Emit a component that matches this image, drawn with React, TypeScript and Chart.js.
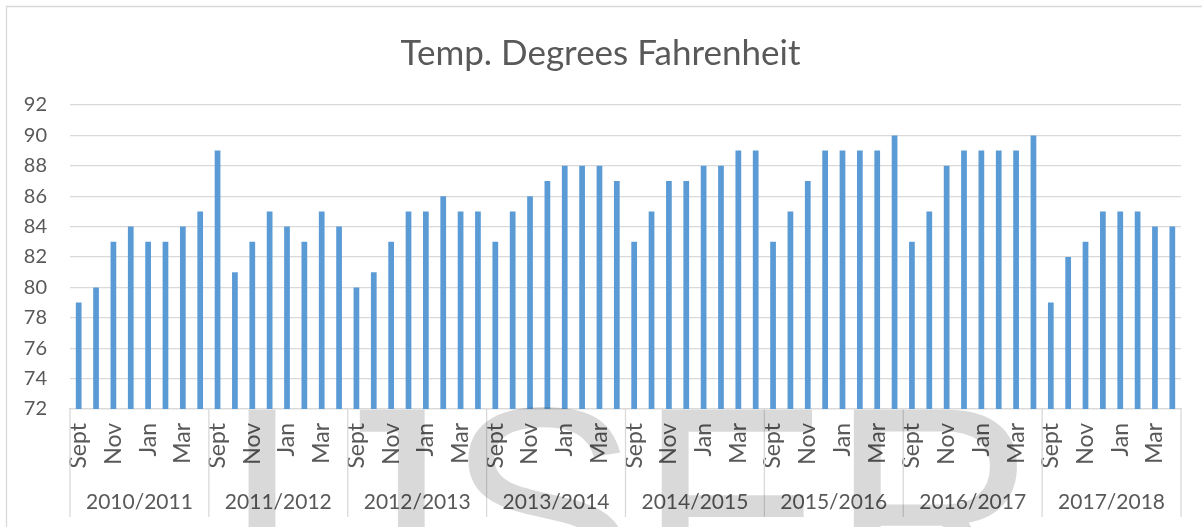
import React, { useEffect, useRef } from 'react';
import { Chart, registerables } from 'chart.js';

Chart.register(...registerables);

const seasonLabels = ['2010/2011', '2011/2012', '2012/2013', '2013/2014', '2014/2015', '2015/2016', '2016/2017', '2017/2018'];
const monthLabels = ['Sept', 'Oct', 'Nov', 'Dec', 'Jan', 'Feb', 'Mar', 'Apr'];

const temps2010_2011 = [79, 80, 83, 84, 83, 83, 84, 85];
const temps2011_2012 = [89, 81, 83, 85, 84, 83, 85, 84];
const temps2012_2013 = [80, 81, 83, 85, 85, 86, 85, 85];
const temps2013_2014 = [83, 85, 86, 87, 88, 88, 88, 87];
const temps2014_2015 = [83, 85, 87, 87, 88, 88, 89, 89];
const temps2015_2016 = [83, 85, 87, 89, 89, 89, 89, 90];
const temps2016_2017 = [83, 85, 88, 89, 89, 89, 89, 90];
const temps2017_2018 = [79, 82, 83, 85, 85, 85, 84, 84];

const yMin = 72;
const yMax = 92;
const yStep = 2;

const titleText = 'Temp. Degrees Fahrenheit';
const watermarkText = 'IJSER';

const FONT = 'Lato, "Open Sans", sans-serif';
const TEXT = '#595959';
const GRID = '#d9d9d9';
const BAR = '#5b9bd5';

const seasonTemps = [
  temps2010_2011, temps2011_2012, temps2012_2013, temps2013_2014,
  temps2014_2015, temps2015_2016, temps2016_2017, temps2017_2018,
];

const allLabels: string[] = [];
const allValues: number[] = [];
seasonTemps.forEach((arr) => {
  arr.forEach((v, i) => {
    allLabels.push(monthLabels[i]);
    allValues.push(v);
  });
});

const groupPlugin = {
  id: 'groupSeparators',
  afterDraw(chart: any) {
    const { ctx, chartArea } = chart;
    const xs = chart.scales.x;
    const x2 = chart.scales.x2;
    const per = monthLabels.length;
    ctx.save();
    ctx.strokeStyle = GRID;
    ctx.lineWidth = 1.3;
    for (let g = 0; g <= seasonLabels.length; g++) {
      let px: number;
      if (g === 0) px = chartArea.left;
      else if (g === seasonLabels.length) px = chartArea.right;
      else px = (xs.getPixelForValue(g * per - 1) + xs.getPixelForValue(g * per)) / 2;
      ctx.beginPath();
      ctx.moveTo(px, chartArea.bottom);
      ctx.lineTo(px, x2.bottom - 10);
      ctx.stroke();
    }
    // outer frame (left and top edges)
    ctx.beginPath();
    ctx.moveTo(6.5, chart.height);
    ctx.lineTo(6.5, 6.5);
    ctx.lineTo(chart.width, 6.5);
    ctx.stroke();

    // translucent watermark overlay
    ctx.fillStyle = 'rgba(0,0,0,0.15)';
    ctx.font = '288px "Liberation Sans", Arial, sans-serif';
    ctx.textBaseline = 'alphabetic';
    ctx.textAlign = 'left';
    ctx.fillText(watermarkText, 222, 608);
    ctx.restore();
  },
};

export default function App() {
  const ref = useRef<HTMLCanvasElement | null>(null);

  useEffect(() => {
    if (!ref.current) return;
    const chart = new Chart(ref.current, {
      type: 'bar',
      data: {
        labels: allLabels,
        datasets: [
          {
            label: titleText,
            data: allValues,
            backgroundColor: BAR,
            borderWidth: 0,
            categoryPercentage: 1,
            barPercentage: 0.33,
          },
        ],
      },
      options: {
        responsive: false,
        animation: false,
        devicePixelRatio: 1,
        layout: { padding: { left: 20, right: 21, top: 0, bottom: 0 } },
        plugins: {
          legend: { display: false },
          tooltip: { enabled: false },
          title: {
            display: true,
            text: titleText,
            color: TEXT,
            font: { family: FONT, size: 35, weight: 'normal' },
            padding: { top: 33, bottom: 30 },
          },
        },
        scales: {
          x: {
            type: 'category',
            position: 'bottom',
            weight: 0,
            grid: { display: false, drawTicks: false },
            border: { display: true, color: GRID, width: 1.3 },
            ticks: {
              autoSkip: false,
              minRotation: 90,
              maxRotation: 90,
              padding: 14,
              color: TEXT,
              font: { family: FONT, size: 23 },
              callback: (_v: any, i: number) => (i % 2 === 0 ? allLabels[i] : ''),
            },
            afterFit: (s: any) => {
              s.height = 75;
              s.paddingLeft = 0;
              s.paddingRight = 0;
            },
          },
          x2: {
            type: 'category',
            labels: seasonLabels,
            position: 'bottom',
            weight: 1,
            offset: true,
            grid: { display: false, drawTicks: false },
            border: { display: false },
            ticks: {
              autoSkip: false,
              maxRotation: 0,
              minRotation: 0,
              padding: 6,
              color: TEXT,
              font: { family: FONT, size: 21 },
            },
            afterFit: (s: any) => {
              s.height = 43;
              s.paddingLeft = 0;
              s.paddingRight = 0;
            },
          },
          y: {
            min: yMin,
            max: yMax,
            ticks: {
              stepSize: yStep,
              padding: 23,
              color: TEXT,
              font: { family: FONT, size: 20 },
            },
            grid: { color: GRID, lineWidth: 1.3, drawTicks: false },
            border: { display: false },
            afterFit: (s: any) => {
              s.width = 50;
            },
          },
        },
      } as any,
      plugins: [groupPlugin],
    });
    return () => chart.destroy();
  }, []);

  return (
    <div style={{ position: 'absolute', left: 0, top: 0, width: 1202, height: 527, background: '#fff' }}>
      <canvas ref={ref} width={1202} height={527} />
    </div>
  );
}
